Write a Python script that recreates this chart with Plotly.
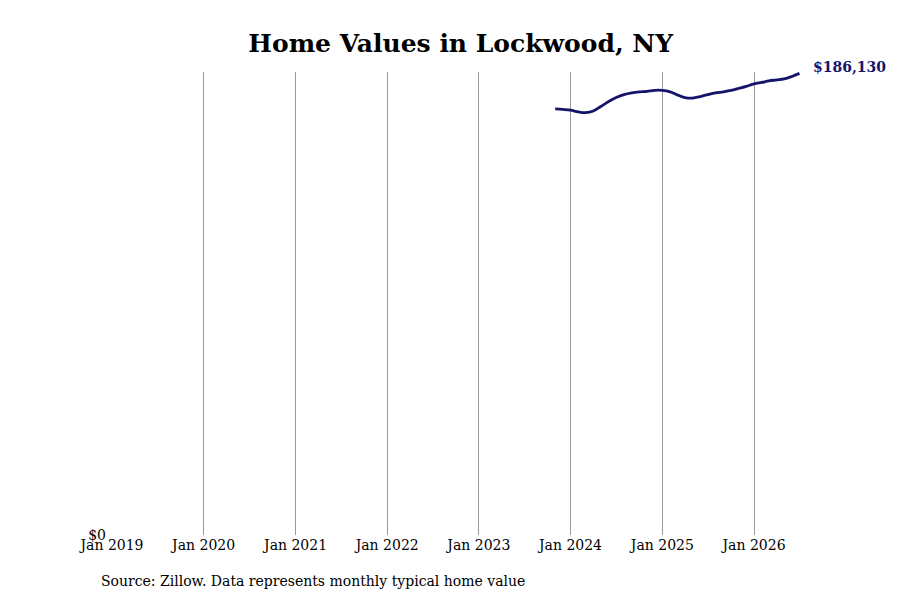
import plotly.graph_objects as go

# monthly typical home value, Nov 2023 - Jul 2026
months = [
    "2023-11-01", "2023-12-01",
    "2024-01-01", "2024-02-01", "2024-03-01", "2024-04-01", "2024-05-01", "2024-06-01",
    "2024-07-01", "2024-08-01", "2024-09-01", "2024-10-01", "2024-11-01", "2024-12-01",
    "2025-01-01", "2025-02-01", "2025-03-01", "2025-04-01", "2025-05-01", "2025-06-01",
    "2025-07-01", "2025-08-01", "2025-09-01", "2025-10-01", "2025-11-01", "2025-12-01",
    "2026-01-01", "2026-02-01", "2026-03-01", "2026-04-01", "2026-05-01", "2026-06-01",
    "2026-07-01",
]
values = [
    171800, 171600,
    171300, 170600, 170300, 171000, 172800, 174800,
    176400, 177600, 178300, 178700, 178900, 179300,
    179300, 178700, 177500, 176400, 176200, 176800,
    177600, 178300, 178700, 179300, 180100, 180900,
    181900, 182500, 183100, 183500, 183900, 184900,
    186130,
]
tick_dates = ["2019-01-01", "2020-01-01", "2021-01-01", "2022-01-01",
              "2023-01-01", "2024-01-01", "2025-01-01", "2026-01-01"]
tick_labels = ["Jan 2019", "Jan 2020", "Jan 2021", "Jan 2022",
               "Jan 2023", "Jan 2024", "Jan 2025", "Jan 2026"]

font = "DejaVu Serif"
navy = "#14146b"

fig = go.Figure(go.Scatter(
    x=months, y=values, mode="lines",
    line=dict(color=navy, width=2.8, shape="spline"),
    hoverinfo="skip",
))

fig.add_annotation(
    x=months[-1], y=values[-1], text=f"<b>${values[-1]:,}</b>",
    showarrow=False, xanchor="left", xshift=12, yshift=6,
    font=dict(family=font, size=14, color=navy),
)
# source note under the axis
fig.add_annotation(
    x=-0.019, y=-0.099, xref="paper", yref="paper",
    xanchor="left", yanchor="middle",
    text="Source: Zillow. Data represents monthly typical home value",
    showarrow=False, font=dict(family=font, size=14, color="black"),
)

fig.update_layout(
    width=900, height=600,
    margin=dict(l=104, r=105, t=64, b=73),
    paper_bgcolor="white", plot_bgcolor="white",
    title=dict(text="<b>Home Values in Lockwood, NY</b>", x=0.503, xanchor="center",
               xref="container", y=0.942, yanchor="middle",
               font=dict(family=font, size=25, color="black")),
    showlegend=False,
    font=dict(family=font, size=14, color="black"),
    xaxis=dict(
        range=["2019-01-01", "2026-07-15"],
        tickvals=tick_dates, ticktext=tick_labels,
        showgrid=True, gridcolor="#999999", gridwidth=1,
        zeroline=False, showline=False, ticks="",
        tickfont=dict(family=font, size=14),
    ),
    yaxis=dict(
        range=[0, 186700], tickvals=[0], ticktext=["$0"],
        showgrid=False, zeroline=False, showline=False, ticks="",
        tickfont=dict(family=font, size=14), ticklabelstandoff=5,
    ),
)

fig.write_html("out.html")
